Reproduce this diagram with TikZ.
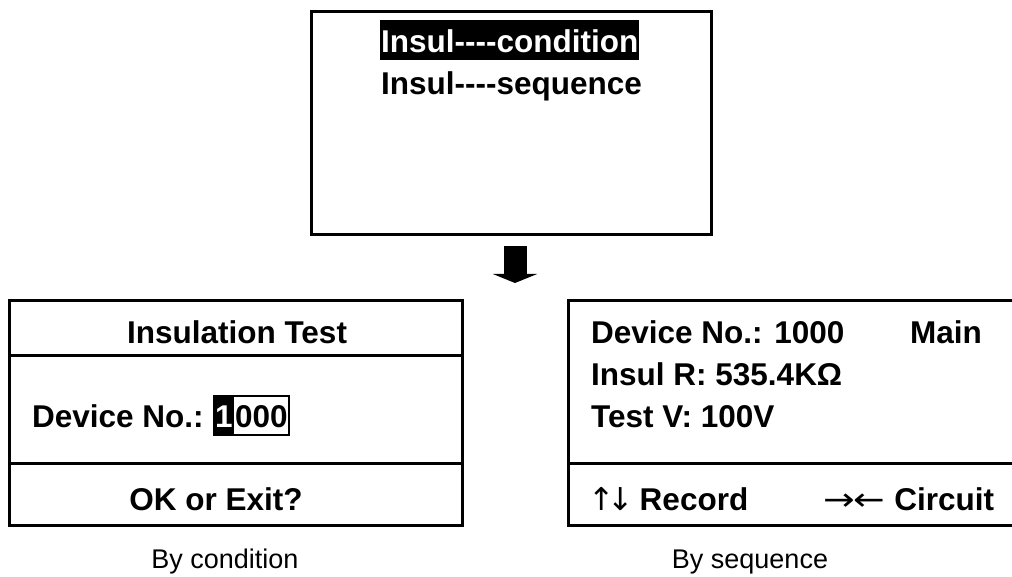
\documentclass[tikz,border=0pt]{standalone}
\usepackage{fontspec}
\setmainfont{Liberation Sans}
\newfontfamily\arrfont{DejaVu Sans}
\usetikzlibrary{arrows.meta,positioning}
\newcommand{\lcdfont}{\bfseries\fontsize{31.5}{38}\selectfont}
\newcommand{\dashes}{-{}-{}-{}-}
\newcommand{\wide}[1]{\scalebox{1.2}[1]{#1}}

\begin{document}
\begin{tikzpicture}[
  x=1pt, y=-1pt,
  frame/.style={draw, line width=3pt, inner sep=0pt},
  lcd/.style={font=\lcdfont, inner sep=0pt},
  inv/.style={lcd, fill=black, text=white},
  capt/.style={font=\fontsize{27}{32}\selectfont, inner sep=0pt, anchor=base},
  bigarr/.style={line width=23pt, -{Triangle[length=9pt, width=44pt]}}
]
\useasboundingbox (0,0) rectangle (1012,577);

% menu screen
\node[frame, minimum width=400pt, minimum height=223pt] (menu) at (511.5,123) {};
\node[inv, anchor=base west, text height=33pt, text depth=7pt, inner xsep=1pt] (cond) at (380,53) {Insul\dashes condition};
\node[lcd, anchor=base west] (seq) at (381,95) {Insul\dashes sequence};

\coordinate (atop) at (515,246);
\coordinate (abot) at (515,283);
\draw[bigarr] (atop) -- (abot);

% by condition
\node[frame, minimum width=453pt, minimum height=225pt] (cnd) at (236,413) {};
\draw[line width=3pt] (cnd.west |- 0,355) -- (cnd.east |- 0,355);
\draw[line width=3pt] (cnd.west |- 0,463) -- (cnd.east |- 0,463);
\node[lcd, anchor=base] (ttl) at (237,343) {Insulation Test};
\node[lcd, anchor=base west] (dlab) at (32,427) {Device No.:};
\node[inv, anchor=base west, text height=31pt, text depth=8pt, inner xsep=1pt] (dig) at (214,427) {1};
\node[lcd, anchor=base west, text height=31pt, text depth=8pt, inner xsep=1pt] (rest) at (dig.base east) {000};
\draw[line width=1.5pt] (dig.north west) rectangle (rest.south east);
\node[lcd, anchor=base] (okx) at (216,510) {OK or Exit?};
\node[capt] (c1) at (225,568) {By condition};

% by sequence
\node[frame, minimum width=475pt, minimum height=225pt] (rec) at (806,413) {};
\draw[line width=3pt] (rec.west |- 0,463) -- (rec.east |- 0,463);
\node[lcd, anchor=base west] (dno) at (591,343) {Device No.: 1000};
\node[lcd, anchor=base west] (mn) at (910,343) {Main};
\node[lcd, anchor=base west] (ir) at (591,385) {Insul R: 535.4KΩ};
\node[lcd, anchor=base west] (tv) at (591,427) {Test V: 100V};
\node[lcd, anchor=base west] (rcd) at (588,510) {{\arrfont\mdseries ↑\kern-7pt↓}\kern-3pt\ Record};
\node[lcd, anchor=base west] (crc) at (823,510) {{\arrfont\mdseries \wide{→}\kern-1pt\wide{←}} Circuit};
\node[capt] (c2) at (750,568) {By sequence};

\end{tikzpicture}
\end{document}
